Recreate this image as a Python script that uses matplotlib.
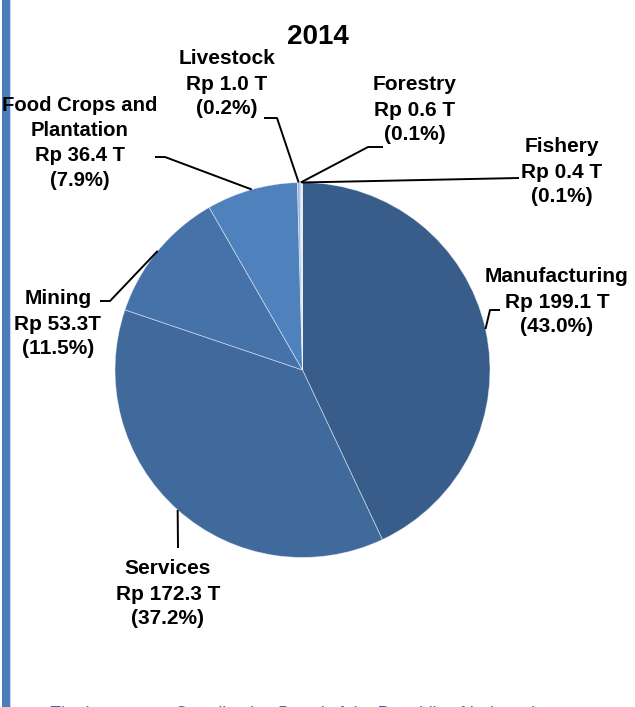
import numpy as np
import matplotlib
matplotlib.use("Agg")
import matplotlib.pyplot as plt
from matplotlib.patches import Rectangle

title = "2014"
sectors = ["Manufacturing", "Services", "Mining", "Food Crops and\nPlantation",
           "Livestock", "Forestry", "Fishery"]
values_t = [199.1, 172.3, 53.3, 36.4, 1.0, 0.6, 0.4]
value_text = ["Rp 199.1 T", "Rp 172.3 T", "Rp 53.3T", "Rp 36.4 T",
              "Rp 1.0 T", "Rp 0.6 T", "Rp 0.4 T"]
pct_text = ["(43.0%)", "(37.2%)", "(11.5%)", "(7.9%)", "(0.2%)", "(0.1%)", "(0.1%)"]
source = "The Investment Coordinating Board of the Republic of Indonesia"

colors = ["#385D8A", "#416A9C", "#4672AA", "#4F81BD", "#95B3D7", "#B9CDE5", "#DCE6F2"]

W, H = 635, 707
fig = plt.figure(figsize=(W / 100, H / 100), dpi=100)
ax = fig.add_axes([0, 0, 1, 1])
ax.set_xlim(0, W)
ax.set_ylim(0, H)
ax.set_aspect("equal")
ax.axis("off")

def Y(y):
    return H - y

cx, cy, r = 302.5, Y(370), 187.5
wedges, _ = ax.pie(values_t, colors=colors, startangle=90, counterclock=False,
                   center=(cx, cy), radius=r, frame=True,
                   wedgeprops=dict(edgecolor=(1, 1, 1, 0.5), linewidth=0.6))
ax.set_xlim(0, W)
ax.set_ylim(0, H)
ax.axis("off")

# label centres (image px) and leader-line elbows (image px)
label_pos = [(557, 302), (168, 594), (58, 324), (80, 143), (227, 84), (415, 110), (562, 172)]
label_size = [15, 15, 15, 14.6, 15, 15, 15]
elbows = [
    [(490, 310), (500, 310)],
    [(178, 548)],
    [(110, 301), (100, 301)],
    [(165, 157), (155, 157)],
    [(277, 118), (264, 118)],
    [(368, 147), (383, 147)],
    [(519, 178)],
]

fam = ["Liberation Sans", "DejaVu Sans"]
for w, name, vt, pt, (lx, ly), elb, fs in zip(wedges, sectors, value_text, pct_text,
                                              label_pos, elbows, label_size):
    mid = np.deg2rad((w.theta1 + w.theta2) / 2)
    ax_ = cx + r * np.cos(mid)
    ay_ = cy + r * np.sin(mid)
    xs = [ax_] + [p[0] for p in elb]
    ys = [ay_] + [Y(p[1]) for p in elb]
    ax.plot(xs, ys, color="black", lw=1.4, solid_capstyle="butt", zorder=5)
    ax.text(lx, Y(ly), f"{name}\n{vt}\n{pt}", ha="center", va="center",
            linespacing=1.4, family=fam, weight="bold", size=fs, zorder=8)

ax.text(318, Y(37), title, ha="center", va="center",
        family=fam, weight="bold", size=20)

# left decorative bar
ax.add_patch(Rectangle((2, 0), 7.5, H, facecolor="#4A7EBB", edgecolor="none", zorder=6))
ax.add_patch(Rectangle((9.5, 0), 1.2, H, facecolor="#C9D9EE", edgecolor="none", zorder=6))

# clipped source line at bottom
fig.text(49 / W, -11 / H, source, ha="left", va="baseline", style="italic",
         family=fam, size=12.5, color="#2F6EA8")

fig.savefig("out.png", dpi=100)
